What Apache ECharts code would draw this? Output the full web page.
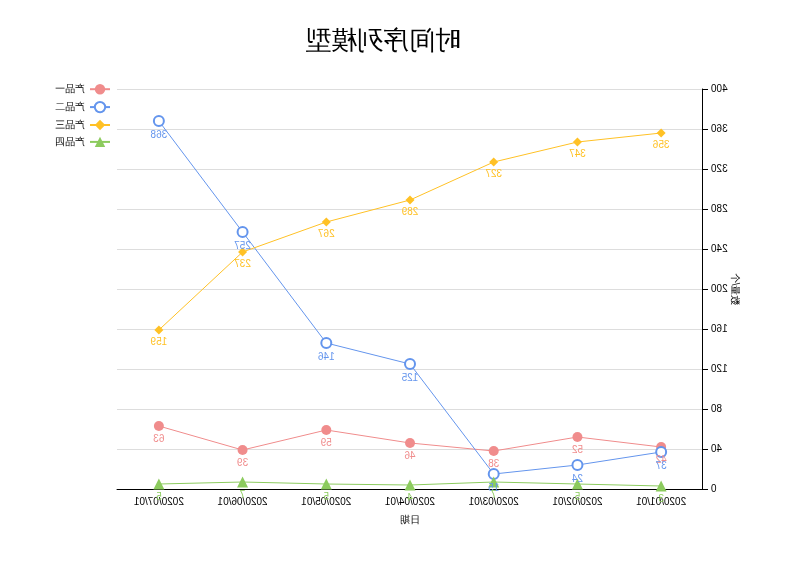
<!DOCTYPE html>
<html>
<head>
<meta charset="utf-8">
<script src="https://cdn.jsdelivr.net/npm/echarts@6/dist/echarts.min.js"></script>
<style>
html,body{margin:0;padding:0;background:#fff;}
#c{width:800px;height:566px;transform:scaleX(-1);}
</style>
</head>
<body>
<div id="c"></div>
<script>
var categories = ['2020/01/01','2020/02/01','2020/03/01','2020/04/01','2020/05/01','2020/06/01','2020/07/01'];
var product1 = [42, 52, 38, 46, 59, 39, 63];
var product2 = [37, 24, 15, 125, 146, 257, 368];
var product3 = [356, 347, 327, 289, 267, 237, 159];
var product4 = [3, 5, 7, 4, 5, 7, 5];
var seriesNames = ['产品一','产品二','产品三','产品四'];
var colors = ['#F08C8C','#6495ED','#FFC125','#8CCB5E'];

var chart = echarts.init(document.getElementById('c'));
function mk(i, data, symbol, size){
  return {
    name: seriesNames[i], type: 'line', data: data,
    symbol: symbol, symbolSize: size,
    lineStyle: {width: 1, color: colors[i]},
    itemStyle: {color: colors[i]},
    label: {show: true, position: 'bottom', distance: 3, color: colors[i], fontSize: 10}
  };
}
chart.setOption({
  animation: false,
  color: colors,
  title: {text: '时间序列模型', left: 334, top: 24, textStyle: {fontSize: 26, fontWeight: 'normal', color: '#000'}},
  legend: {orient: 'vertical', right: 50, top: 79, itemGap: 6.5, itemWidth: 20, itemHeight: 13,
    textStyle: {fontSize: 10, color: '#000'}, data: seriesNames},
  grid: {left: 97, right: 117, top: 89, bottom: 77, containLabel: false},
  xAxis: {type: 'category', data: categories, name: '日期', nameLocation: 'middle', nameGap: 26,
    nameTextStyle: {color: '#000', fontSize: 10},
    axisLine: {lineStyle: {color: '#000'}}, axisTick: {lineStyle: {color: '#000'}},
    axisLabel: {color: '#000', fontSize: 10}},
  yAxis: {type: 'value', min: 0, max: 400, interval: 40, name: '数量/个', nameLocation: 'middle', nameGap: 27,
    nameMoveOverlap: false,
    nameTextStyle: {color: '#000', fontSize: 10},
    axisLine: {show: true, lineStyle: {color: '#000'}}, axisTick: {show: true, lineStyle: {color: '#000'}},
    axisLabel: {color: '#000', fontSize: 10},
    splitLine: {lineStyle: {color: '#ddd'}}},
  series: [
    mk(0, product1, 'circle', 10),
    mk(1, product2, 'emptyCircle', 10),
    mk(2, product3, 'diamond', 9),
    mk(3, product4, 'triangle', 11)
  ]
});
</script>
</body>
</html>
